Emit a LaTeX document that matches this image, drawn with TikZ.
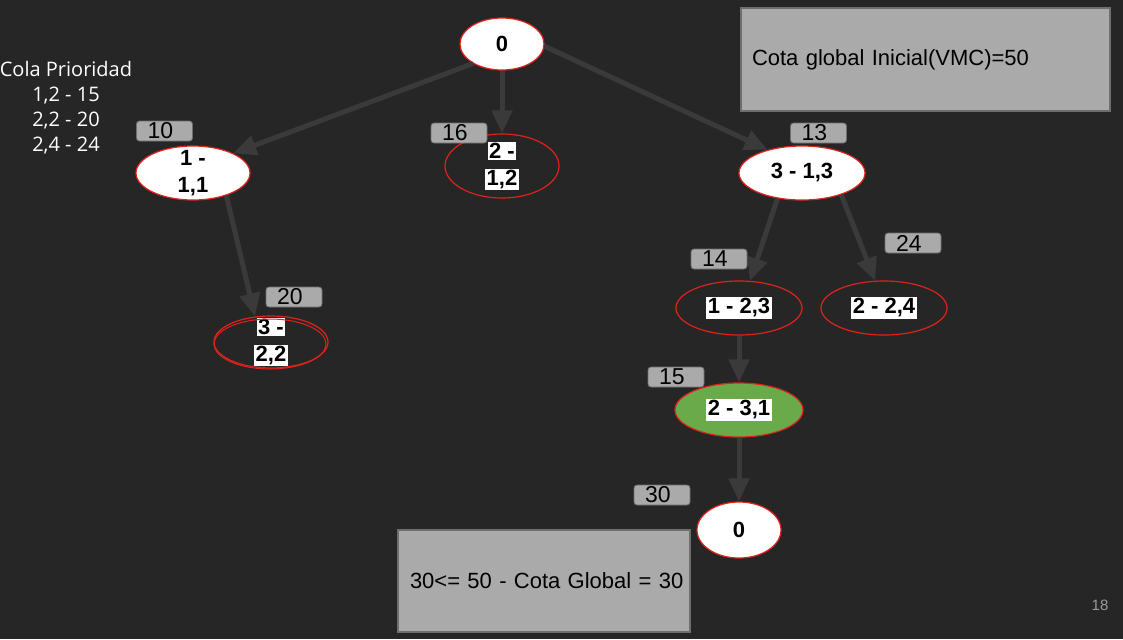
\documentclass[tikz,border=0pt]{standalone}
\usepackage{fontspec}
\setmainfont{Liberation Sans}
\newfontfamily\colafont{Open Sans}
\usetikzlibrary{shapes.geometric, arrows.meta, positioning}

\definecolor{slidebg}{HTML}{262626}
\definecolor{nodered}{HTML}{E0221C}
\definecolor{leafgreen}{HTML}{6AAA4B}
\definecolor{edgegray}{HTML}{3A3A3A}
\definecolor{boxgray}{HTML}{AAAAAA}
\definecolor{boxedge}{HTML}{6E6E6E}
\definecolor{pagegray}{HTML}{9A9A9A}

\setlength{\fboxsep}{0.8pt}
\newcommand{\hl}[1]{\colorbox{white}{#1}}

\begin{document}
\begin{tikzpicture}[x=0.5pt, y=-0.5pt,
	bbnode/.style={ellipse, draw=nodered, line width=0.6pt, inner sep=0pt},
	nodetext/.style={font=\bfseries\fontsize{11}{13.5}\selectfont, align=center, inner sep=0pt, text=black},
	cost/.style={draw=boxedge, fill=boxgray, rounded corners=1.5pt, line width=0.4pt, minimum width=28pt, minimum height=10pt, inner sep=0pt, text width=17pt, align=left, font=\fontsize{11.5}{12}\selectfont, text=black},
	note/.style={draw=boxedge, fill=boxgray, line width=0.6pt, inner sep=0pt, align=left, font=\fontsize{11}{13}\selectfont, text=black},
	edge/.style={draw=edgegray, line width=2.5pt, -{Triangle[length=11.5pt, width=10pt]}}]
	
	\fill[slidebg] (0,0) rectangle (1123,639);
	\useasboundingbox (0,0) rectangle (1123,639);
	
	% arbol
	\node[bbnode, fill=white, minimum width=42pt, minimum height=26pt, label={[nodetext]center:0}] (n0) at (502,44) {};
	\node[bbnode, fill=white, minimum width=57pt, minimum height=27pt, label={[nodetext]center:{\hl{1 -}\\\hl{1,1}}}] (n11) at (193,173) {};
	\node[bbnode, minimum width=57pt, minimum height=32pt, label={[nodetext]center:{\hl{2 -}\\\hl{1,2}}}] (n12) at (502,166) {};
	\node[bbnode, fill=white, minimum width=63pt, minimum height=27pt, label={[nodetext]center:{3 - 1,3}}] (n13) at (802,173) {};
	\node[bbnode, minimum width=57pt, minimum height=26pt, label={[nodetext]center:{\hl{3 -}\\\hl{2,2}}}] (n22) at (271,342) {};
	\node[bbnode, minimum width=63pt, minimum height=27pt, label={[nodetext]center:{\hl{1 - 2,3}}}] (n23) at (739,308) {};
	\node[bbnode, minimum width=63pt, minimum height=27pt, label={[nodetext]center:{\hl{2 - 2,4}}}] (n24) at (884,308) {};
	\node[bbnode, fill=leafgreen, minimum width=64pt, minimum height=27pt, label={[nodetext]center:{\hl{2 - 3,1}}}] (n31) at (739,410) {};
	\node[bbnode, fill=white, minimum width=42pt, minimum height=28pt, label={[nodetext]center:0}] (nend) at (739,530) {};
	
	\draw[nodered, line width=0.5pt] ([shift={(-1,2)}]n22.center) ellipse [x radius=56, y radius=25];
	
	\draw[edge] (n0.214) -- (n11.26);
	\draw[edge] (n0.south) -- (n12.north);
	\draw[edge] (n0.-3) -- (n13.146);
	\draw[edge] (n11.-34) -- (n22.122);
	\draw[edge] (n13.-134) -- (n23.68);
	\draw[edge] (n13.-29) -- (n24.108);
	\draw[edge] (n23.south) -- (n31.north);
	\draw[edge] (n31.south) -- (nend.north);
	
	% costes
	\node[cost] (c11) at (164.5,131) {10};
	\node[cost] (c12) at (459,133) {16};
	\node[cost] (c13) at (818.5,133) {13};
	\node[cost] (c24) at (913,243) {24};
	\node[cost] (c23) at (719,259) {14};
	\node[cost] (c22) at (294,297) {20};
	\node[cost] (c31) at (676,377) {15};
	\node[cost] (cend) at (662,495) {30};
	
	% cuadros
	\node[note, minimum width=184.5pt, minimum height=51.5pt, text width=173.5pt, inner xsep=5.5pt] (cota) at (925.5,59.5) {Cota global Inicial(VMC)=50};
	\node[note, minimum width=146pt, minimum height=51pt, text width=140pt, inner xsep=3pt] (fin) at (544,581) {\hspace*{3pt}30<= 50 - Cota Global = 30};
	
	\node[text=white, align=center, font=\colafont\fontsize{10}{12.5}\selectfont, inner sep=0pt] (cola) at (66,108) {Cola Prioridad\\1,2 - 15\\2,2 - 20\\2,4 - 24};
	
	\node[text=pagegray, font=\fontsize{7.5}{9}\selectfont, inner sep=0pt] (pag) at (1100,605) {18};
\end{tikzpicture}
\end{document}
